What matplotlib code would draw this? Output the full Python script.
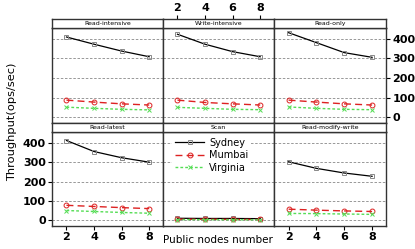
import matplotlib
matplotlib.use('Agg')
import matplotlib.pyplot as plt

nodes = [2, 4, 6, 8]
panels = ['Read-intensive', 'Write-intensive', 'Read-only',
          'Read-latest', 'Scan', 'Read-modify-write']
sydney = {
    'Read-intensive': [410, 373, 338, 309],
    'Write-intensive': [424, 373, 335, 309],
    'Read-only': [432, 381, 330, 306],
    'Read-latest': [412, 355, 323, 300],
    'Scan': [10, 9, 9, 8],
    'Read-modify-write': [302, 268, 244, 227],
}
mumbai = {
    'Read-intensive': [87, 77, 68, 62],
    'Write-intensive': [87, 75, 68, 62],
    'Read-only': [87, 77, 68, 62],
    'Read-latest': [77, 71, 65, 60],
    'Scan': [5, 5, 4, 4],
    'Read-modify-write': [57, 52, 48, 45],
}
virginia = {
    'Read-intensive': [51, 45, 40, 37],
    'Write-intensive': [50, 45, 40, 38],
    'Read-only': [52, 45, 40, 38],
    'Read-latest': [50, 45, 40, 36],
    'Scan': [3, 3, 2, 2],
    'Read-modify-write': [35, 34, 32, 30],
}
yticks = [0, 100, 200, 300, 400]

W, H = 415, 249
fig = plt.figure(figsize=(W / 100, H / 100), dpi=100)
fig.patch.set_facecolor('white')


def box(x0, y0, x1, y1):
    # pixel coords (top-left origin) -> figure fraction rect
    return [x0 / W, (H - y1) / H, (x1 - x0) / W, (y1 - y0) / H]


xs = [52, 163, 274, 386]
rows = [(19, 28, 123), (123, 132, 226)]
edge = '#333333'

for idx, name in enumerate(panels):
    r, c = divmod(idx, 3)
    st, pt, pb = rows[r]
    ax = fig.add_axes(box(xs[c], pt, xs[c + 1], pb))
    sax = fig.add_axes(box(xs[c], st, xs[c + 1], pt), sharex=ax)

    for yv in yticks:
        ax.axhline(yv, color='#888888', linestyle=(0, (3, 2)), linewidth=0.6, zorder=0)

    ax.plot(nodes, sydney[name], color='black', linewidth=0.9, marker='s', markersize=3,
            markerfacecolor='none', markeredgecolor='#888888', markeredgewidth=0.7, label='Sydney')
    ax.plot(nodes, mumbai[name], color='#dd2222', linewidth=1.0, linestyle=(0, (5, 3)), marker='o',
            markersize=3.5, markerfacecolor='none', markeredgecolor='#dd2222', markeredgewidth=0.7,
            label='Mumbai')
    ax.plot(nodes, virginia[name], color='#55dd55', linewidth=1.0, linestyle=(0, (2, 1.5)), marker='x',
            markersize=3, markeredgewidth=0.7, label='Virginia')

    ax.set_xlim(0.95, 9.0)
    ax.set_ylim(-30, 456)
    ax.set_xticks(nodes)
    ax.set_yticks(yticks)
    for sp in ax.spines.values():
        sp.set_color(edge)
        sp.set_linewidth(1.0)
    for sp in sax.spines.values():
        sp.set_color(edge)
        sp.set_linewidth(1.0)

    ax.tick_params(axis='both', which='both', length=0, labelbottom=False, labelleft=False,
                   labelsize=8, direction='out')
    sax.set_yticks([])
    sax.tick_params(axis='x', length=0, labelbottom=False, labeltop=False)
    sax.set_facecolor('white')
    sax.text(0.5, 0.45, name, transform=sax.transAxes, ha='center', va='center', fontsize=4.5)

    if r == 0 and c == 2:
        ax.yaxis.tick_right()
        ax.tick_params(axis='y', length=3, labelright=True, labelleft=False, width=0.8, pad=1.5)
    if r == 1 and c == 0:
        ax.tick_params(axis='y', length=3, labelleft=True, width=0.8, pad=1.5)
    if r == 1 and c in (0, 2):
        ax.tick_params(axis='x', length=3, labelbottom=True, width=0.8, pad=1.5)
    if r == 0 and c == 1:
        sax.xaxis.tick_top()
        sax.tick_params(axis='x', length=3, labeltop=True, labelbottom=False, width=0.8,
                        labelsize=8, pad=1.5)
        for t in sax.get_xticklabels():
            t.set_fontweight('bold')
    for t in ax.get_xticklabels() + ax.get_yticklabels():
        t.set_fontweight('bold')

    if name == 'Scan':
        leg = ax.legend(loc='upper left', bbox_to_anchor=(0.04, 1.02), frameon=True, fontsize=7,
                        handlelength=3, borderpad=0.3, labelspacing=0.25, handletextpad=0.5)
        leg.get_frame().set_edgecolor('none')
        leg.get_frame().set_facecolor('white')
        leg.get_frame().set_alpha(1.0)

fig.text(12 / W, 1 - 122 / H, 'Throughput(ops/sec)', rotation=90, ha='center', va='center', fontsize=8.2)
fig.text(218 / W, 1 - 240 / H, 'Public nodes number', ha='center', va='center', fontsize=7.5)

fig.savefig('out.png', dpi=100, facecolor='white')
